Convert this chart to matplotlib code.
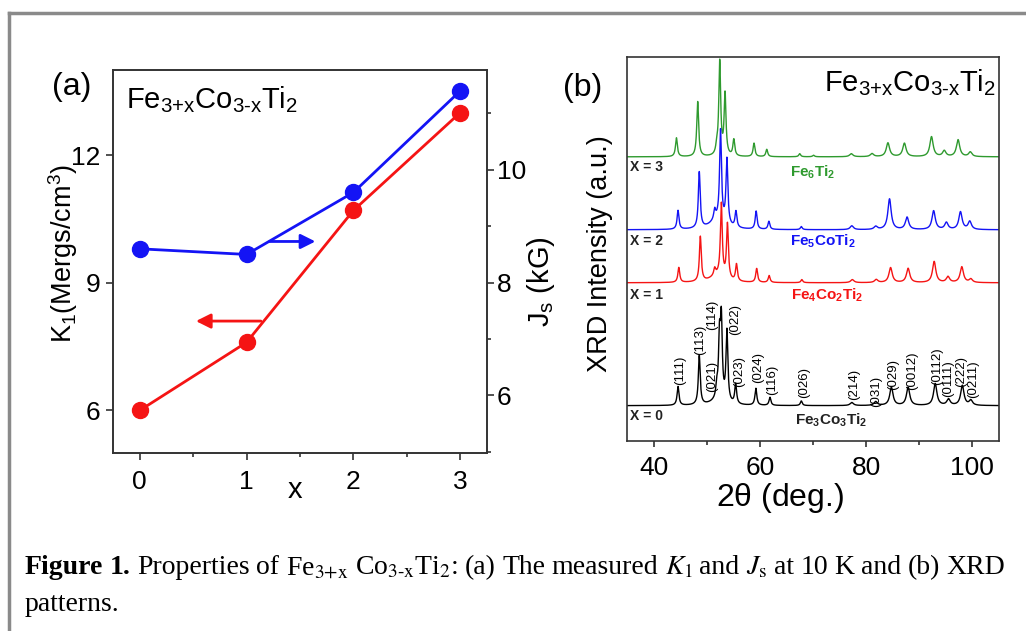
import numpy as np
import matplotlib
matplotlib.use("Agg")
import matplotlib.pyplot as plt
from matplotlib.lines import Line2D
from matplotlib.ticker import MultipleLocator

plt.rcParams["font.family"] = ["Liberation Sans", "DejaVu Sans"]
plt.rcParams["mathtext.fontset"] = "custom"
plt.rcParams["mathtext.rm"] = "Liberation Sans"
plt.rcParams["mathtext.it"] = "Liberation Sans:italic"
plt.rcParams["mathtext.bf"] = "Liberation Sans:bold"

# (a) anisotropy K1 (left axis) and saturation Js (right axis) vs x
x_comp = [0, 1, 2, 3]
k1_values = [6.0, 7.6, 10.7, 13.0]
js_values = [8.6, 8.5, 9.6, 11.4]

# (b) XRD patterns, one peak list per sample (2theta in deg, height in a.u.)
baselines = {"x3": 74.0, "x2": 55.0, "x1": 41.2, "x0": 9.2}

x3_pos = [44.3, 48.3, 51.9, 52.45, 53.45, 55.1, 58.9, 61.3, 67.5, 70.1, 77.2, 81.1, 84.1, 87.2, 92.3, 94.7, 97.3, 99.6]
x3_h = [4.9, 14.3, 2.0, 24.5, 16.0, 4.3, 3.5, 1.9, 0.8, 0.4, 0.8, 0.8, 3.6, 3.5, 5.2, 1.5, 4.4, 1.2]

x2_pos = [44.6, 48.6, 51.5, 52.6, 53.8, 55.5, 59.3, 61.7, 67.8, 77.3, 81.8, 84.4, 87.7, 92.7, 95.1, 97.75, 99.5]
x2_h = [4.9, 14.6, 2.5, 23.5, 17.0, 4.2, 4.7, 2.1, 0.8, 1.0, 0.8, 8.0, 3.2, 4.9, 1.8, 4.6, 2.1]

x1_pos = [44.75, 48.8, 51.5, 52.75, 53.9, 55.6, 59.4, 61.75, 67.9, 77.4, 81.9, 84.6, 87.9, 92.8, 95.4, 98.0, 99.7]
x1_h = [3.9, 11.7, 1.8, 19.0, 14.3, 4.4, 3.6, 1.8, 0.8, 0.8, 0.8, 3.9, 3.7, 5.5, 1.5, 4.1, 0.9]

x0_pos = [44.6, 48.6, 51.9, 52.4, 52.75, 53.8, 55.45, 59.25, 61.9, 67.8, 77.3, 81.8, 84.75, 87.9, 93.0, 95.5, 98.1, 99.7]
x0_h = [4.9, 12.8, 3.0, 15.0, 20.0, 18.5, 5.2, 4.4, 2.1, 1.2, 0.8, 1.0, 4.7, 4.7, 5.7, 1.6, 5.2, 1.3]

# broad amorphous background bump under the main reflections
hump_pos = 52.0
hump_h = {"x3": 0.0, "x2": 2.5, "x1": 1.8, "x0": 1.0}

hkl_labels = ["(111)", "(113)", "(021)", "(114)", "(022)", "(023)", "(024)", "(116)", "(026)",
              "(214)", "(031)", "(029)", "(0012)", "(0112)", "(0111)", "(222)", "(0211)"]
hkl_x = [45.0, 48.75, 51.0, 51.0, 55.3, 56.1, 59.6, 62.4, 68.25, 77.8, 81.9, 85.0, 88.6, 93.3, 95.5, 97.8, 100.1]
hkl_y = [14.6, 22.4, 12.8, 28.9, 27.6, 14.1, 15.1, 12.0, 11.2, 10.7, 8.8, 13.3, 13.3, 14.6, 11.5, 14.1, 11.1]

GREEN = "#2f9a2f"
BLUE = "#1414f5"
RED = "#f51414"


def pattern(two_theta, key, positions, heights):
    y = np.full_like(two_theta, baselines[key])
    y += hump_h[key] / (1 + ((two_theta - hump_pos) / 1.6) ** 2)
    for p, h in zip(positions, heights):
        fwhm = 0.42 if p < 75 else 0.75
        y += h / (1 + ((two_theta - p) / (fwhm / 2)) ** 2)
    return y


fig = plt.figure(figsize=(10.26, 6.31), dpi=100)

# grey frame around the figure block
fig.add_artist(Line2D([9 / 1026, 1.0], [1 - 13 / 631, 1 - 13 / 631], transform=fig.transFigure, color="#8a8a8a", lw=2.5))
fig.add_artist(Line2D([9 / 1026, 9 / 1026], [0.0, 1 - 13 / 631], transform=fig.transFigure, color="#8a8a8a", lw=2.5))

# ---------------- panel (a)
ax_a = fig.add_axes([113 / 1026, 1 - 453 / 631, 374 / 1026, 383 / 631])
ax_r = ax_a.twinx()
ax_a.plot(x_comp, k1_values, color=RED, lw=2.0, marker="o", ms=11.5, zorder=3)
ax_r.plot(x_comp, js_values, color=BLUE, lw=2.0, marker="o", ms=11.5, zorder=3)
ax_a.set_xlim(-0.25, 3.25)
ax_a.set_ylim(5.0, 14.0)
ax_r.set_ylim(4.98, 11.77)
ax_a.set_xticks([0, 1, 2, 3])
ax_a.xaxis.set_minor_locator(MultipleLocator(0.5))
ax_a.set_yticks([6, 9, 12])
ax_r.set_yticks([6, 8, 10])
ax_r.yaxis.set_minor_locator(MultipleLocator(1))
for ax in (ax_a, ax_r):
    for s in ax.spines.values():
        s.set_linewidth(1.2)
        s.set_color("#333333")
    ax.tick_params(which="major", direction="out", length=5, width=1.2, labelsize=19, color="#333333")
    ax.tick_params(which="minor", direction="out", length=3, width=1.2, color="#333333")
ax_a.tick_params(axis="x", pad=7)
ax_a.tick_params(axis="y", pad=4)
ax_r.tick_params(axis="y", pad=2)

ax_r.annotate("", xy=(1.67, 8.73), xytext=(1.19, 8.73),
              arrowprops=dict(arrowstyle="-|>", color=BLUE, lw=2.0, mutation_scale=22))
ax_a.annotate("", xy=(0.50, 8.10), xytext=(1.16, 8.10),
              arrowprops=dict(arrowstyle="-|>", color=RED, lw=2.0, mutation_scale=22))

formula = r"Fe$_{\mathrm{3{+}x}}$Co$_{\mathrm{3\text{-}x}}$Ti$_{\mathrm{2}}$"
ax_a.text(0.035, 0.901, formula, transform=ax_a.transAxes, fontsize=21, va="baseline", ha="left")
fig.text(52 / 1026, 1 - 95 / 631, "(a)", fontsize=23, va="baseline", ha="left")
fig.text(63 / 1026, 1 - 254 / 631, r"K$_{\mathrm{1}}$(Mergs/cm$^{\mathrm{3}}$)", rotation=90,
         fontsize=19.5, ha="center", va="center")
fig.text(541 / 1026, 1 - 282 / 631, r"J$_{\mathrm{s}}$ (kG)", rotation=90,
         fontsize=21, ha="center", va="center")
fig.text(295 / 1026, 1 - 490 / 631, "x", fontsize=21, ha="center", va="center")

# ---------------- panel (b)
ax_b = fig.add_axes([627 / 1026, 1 - 441 / 631, 372 / 1026, 384 / 631])
tt = np.arange(35.0, 105.0, 0.02)
ax_b.plot(tt, pattern(tt, "x3", x3_pos, x3_h), color=GREEN, lw=1.0)
ax_b.plot(tt, pattern(tt, "x2", x2_pos, x2_h), color=BLUE, lw=1.0)
ax_b.plot(tt, pattern(tt, "x1", x1_pos, x1_h), color=RED, lw=1.0)
ax_b.plot(tt, pattern(tt, "x0", x0_pos, x0_h), color="black", lw=1.0)
ax_b.set_xlim(35, 105)
ax_b.set_ylim(0, 100)
ax_b.set_yticks([])
ax_b.set_xticks([40, 60, 80, 100])
ax_b.xaxis.set_minor_locator(MultipleLocator(10))
for s in ax_b.spines.values():
    s.set_linewidth(1.2)
    s.set_color("#333333")
ax_b.tick_params(which="major", direction="out", length=4, width=1.2, labelsize=19, pad=7, color="#333333")
ax_b.tick_params(which="minor", direction="out", length=3, width=1.2, color="#333333")

for lab, hx, hy in zip(hkl_labels, hkl_x, hkl_y):
    ax_b.text(hx, hy, lab, rotation=90, fontsize=9.5, ha="center", va="bottom")

for lab, yy in zip(["X = 3", "X = 2", "X = 1", "X = 0"], [71.4, 52.1, 38.0, 6.5]):
    ax_b.text(35.6, yy, lab, fontsize=10, fontweight="bold", ha="left", va="center", color="#222222")

ax_b.text(69.9, 68.8, r"Fe$_{\mathbf{6}}$Ti$_{\mathbf{2}}$", color=GREEN, fontsize=11, fontweight="bold", ha="center", va="baseline")
ax_b.text(71.8, 51.0, r"Fe$_{\mathbf{5}}$CoTi$_{\mathbf{2}}$", color=BLUE, fontsize=11, fontweight="bold", ha="center", va="baseline")
ax_b.text(72.7, 36.7, r"Fe$_{\mathbf{4}}$Co$_{\mathbf{2}}$Ti$_{\mathbf{2}}$", color=RED, fontsize=11, fontweight="bold", ha="center", va="baseline")
ax_b.text(73.4, 4.2, r"Fe$_{\mathbf{3}}$Co$_{\mathbf{3}}$Ti$_{\mathbf{2}}$", color="#222222", fontsize=11, fontweight="bold", ha="center", va="baseline")

ax_b.text(104.4, 91.0, formula, fontsize=21, ha="right", va="baseline")
fig.text(563 / 1026, 1 - 96 / 631, "(b)", fontsize=23, va="baseline", ha="left")
fig.text(600 / 1026, 1 - 254 / 631, "XRD Intensity (a.u.)", rotation=90, fontsize=19.5, ha="center", va="center")
fig.text(780 / 1026, 1 - 498 / 631, r"2$\mathrm{\theta}$ (deg.)", fontsize=23, ha="center", va="center")

# ---------------- caption (justified first line)
serif = "Liberation Serif"
cap_size = 20
words = [("Figure", "bold"), ("1.", "bold"), ("Properties", "normal"), ("of", "normal"),
         (r"Fe$_{\mathrm{3{+}x}}$", "normal"), (r"Co$_{\mathrm{3\text{-}x}}$Ti$_{\mathrm{2}}$:", "normal"),
         ("(a)", "normal"), ("The", "normal"), ("measured", "normal"), (r"$K_{\mathrm{1}}$", "normal"),
         ("and", "normal"), (r"$J_{\mathrm{s}}$", "normal"), ("at", "normal"), ("10", "normal"),
         ("K", "normal"), ("and", "normal"), ("(b)", "normal"), ("XRD", "normal")]
x_left, x_right = 25 / 1026, 1005 / 1026
y_line1 = 1 - 574 / 631
texts = [fig.text(x_left, y_line1, w, family=serif, fontweight=wt, fontsize=cap_size,
                  math_fontfamily="stix", va="baseline", ha="left") for w, wt in words]
fig.canvas.draw()
renderer = fig.canvas.get_renderer()
widths = [t.get_window_extent(renderer).width / fig.bbox.width for t in texts]
gap = (x_right - x_left - sum(widths)) / (len(texts) - 1)
pos = x_left
for t, w in zip(texts, widths):
    t.set_x(pos)
    pos += w + gap
fig.text(x_left, 1 - 611 / 631, "patterns.", family=serif, fontsize=cap_size, va="baseline", ha="left")

fig.savefig("out.png", dpi=100)
